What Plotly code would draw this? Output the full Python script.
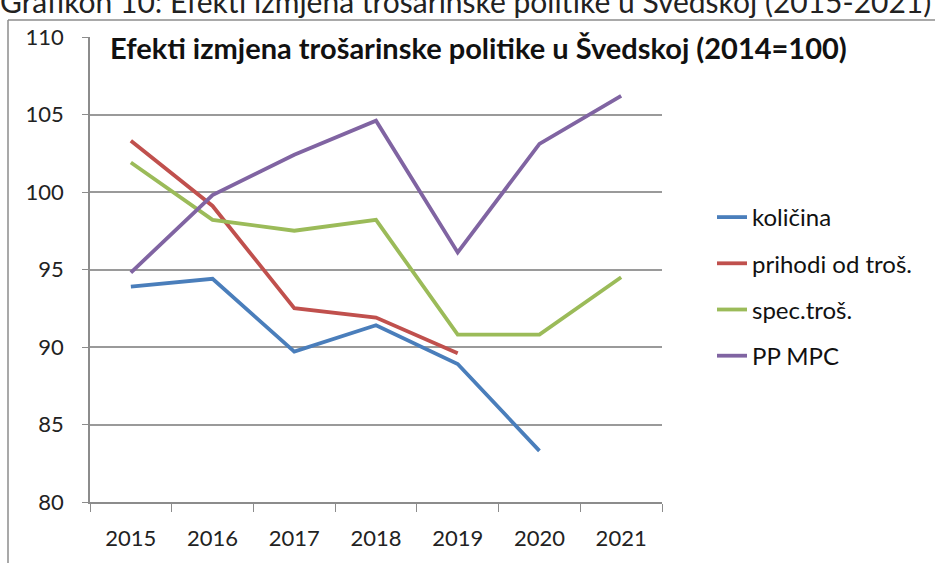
import plotly.graph_objects as go

years = ["2015", "2016", "2017", "2018", "2019", "2020", "2021"]

kolicina = [93.9, 94.4, 89.7, 91.4, 88.9, 83.3, None]
prihodi = [103.3, 99.1, 92.5, 91.9, 89.6, None, None]
spec_tros = [101.9, 98.2, 97.5, 98.2, 90.8, 90.8, 94.5]
pp_mpc = [94.8, 99.8, 102.4, 104.6, 96.1, 103.1, 106.2]

series = [
    ("količina", kolicina, "#4a7ebb"),
    ("prihodi od troš.", prihodi, "#c0504d"),
    ("spec.troš.", spec_tros, "#9bbb59"),
    ("PP MPC", pp_mpc, "#8064a2"),
]

W, H = 935, 563
L, R, T, B = 90, 273, 37, 61
pw, ph = W - L - R, H - T - B

fig = go.Figure()
for i, (name, vals, color) in enumerate(series):
    fig.add_trace(go.Scatter(
        x=years, y=vals, name=name, mode="lines",
        line=dict(color=color, width=3.8),
        legendgroup=f"g{i}", connectgaps=False,
    ))

font = "Lato"
fig.update_layout(
    width=W, height=H,
    margin=dict(l=L, r=R, t=T, b=B),
    paper_bgcolor="white", plot_bgcolor="white",
    font=dict(family=font, size=22, color="#222222"),
    title=dict(
        text="<b>Efekti izmjena trošarinske politike u Švedskoj (2014=100)</b>",
        x=110 / W, xref="container", xanchor="left",
        y=1 - 49 / H, yref="container", yanchor="middle",
        font=dict(family=font, size=29, color="#111111"),
    ),
    legend=dict(
        x=(712 - L) / pw, xanchor="left",
        y=1 - (195 - T) / ph, yanchor="top",
        font=dict(family=font, size=24, color="#111111"),
        tracegroupgap=12, bgcolor="rgba(0,0,0,0)",
    ),
    showlegend=True,
)

fig.update_xaxes(
    type="category", range=[-0.5, 6.5],
    showgrid=False, showline=True, linecolor="#8c8c8c", linewidth=1.5,
    ticks="outside", tickson="boundaries", ticklen=8, tickcolor="#8c8c8c",
    ticklabelstandoff=16, tickfont=dict(size=22),
)
fig.update_yaxes(
    range=[80, 110], dtick=5,
    showgrid=True, gridcolor="#9a9a9a", gridwidth=1.5,
    showline=True, linecolor="#8c8c8c", linewidth=1.5,
    ticks="outside", ticklen=6, tickcolor="#8c8c8c",
    ticklabelstandoff=14, tickfont=dict(size=22), zeroline=False,
)

# outer frame (top and left edges visible in the crop)
fig.add_shape(type="line", xref="paper", yref="paper",
              x0=(8 - L) / pw, x1=(W + 5 - L) / pw,
              y0=1 + (T - 20) / ph, y1=1 + (T - 20) / ph,
              line=dict(color="#8c8c8c", width=1.5))
fig.add_shape(type="line", xref="paper", yref="paper",
              x0=(8 - L) / pw, x1=(8 - L) / pw,
              y0=1 + (T - 20) / ph, y1=-(B + 5) / ph,
              line=dict(color="#8c8c8c", width=1.5))

# caption above the chart, cut off by the image edge
fig.add_annotation(
    text="Grafikon 10: Efekti izmjena trošarinske politike u Švedskoj (2015-2021)",
    xref="paper", yref="paper", x=(-2 - L) / pw, xanchor="left",
    y=1 + (T - 1) / ph, yanchor="middle", showarrow=False,
    font=dict(family=font, size=30, color="#222222"),
)

fig.write_html("out.html", config={"displayModeBar": False},
               post_script="document.body.style.margin='0';")
